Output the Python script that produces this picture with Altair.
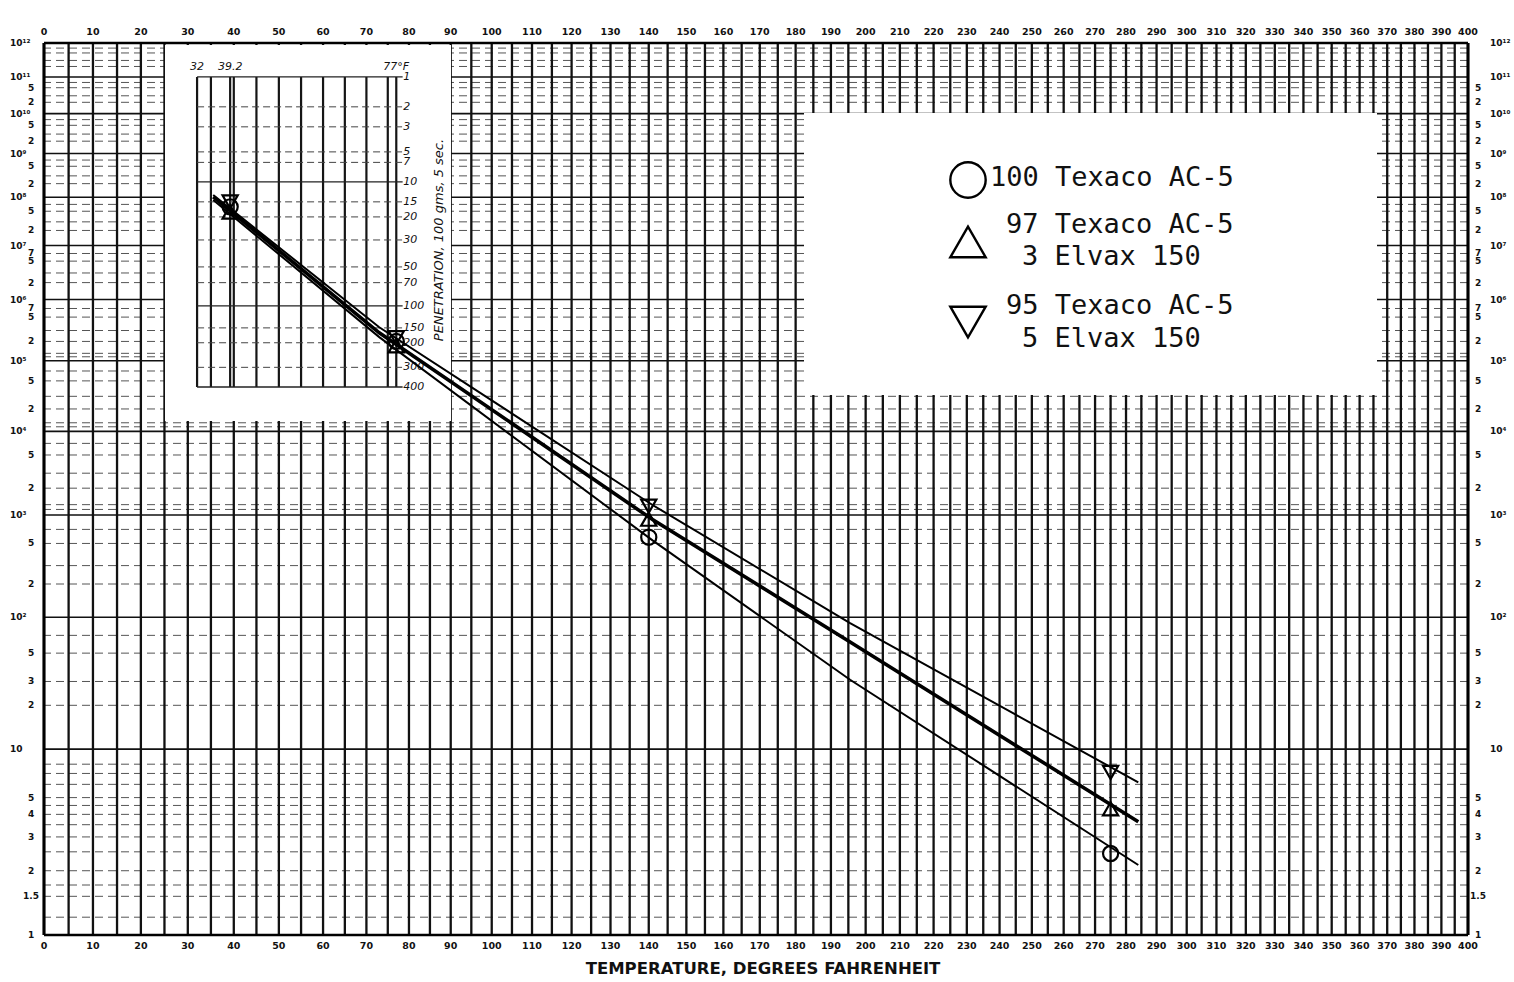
import math
import altair as alt
import pandas as pd

W, H = 1424, 892

# ---------------- data ----------------
SERIES = ["100 Texaco AC-5", "97 Texaco AC-5 / 3 Elvax 150", "95 Texaco AC-5 / 5 Elvax 150"]
T_POINTS = [39.2, 77, 140, 275]                 # deg F
VISC_CIRCLE = [6.2e7, 2.0e5, 580, 2.45]         # poises
VISC_UP = [4.8e7, 1.7e5, 900, 4.3]
VISC_DOWN = [7.9e7, 2.3e5, 1250, 7.1]

LINE_T = [35.5, 73, 141, 195.5, 284]
LINE_LOGV_CIRCLE = [7.94, 5.37, 2.73, 1.49, 0.33]
LINE_LOGV_UP = [8.01, 5.44, 2.95, 1.79, 0.56]
LINE_LOGV_DOWN = [8.05, 5.53, 3.11, 1.95, 0.79]

TEMP_TICKS = list(range(0, 401, 10))
TEMP_GRID = list(range(0, 401, 5))
VISC_TICKS = [1e12, 1e11, 5e10, 2e10, 1e10, 5e9, 2e9, 1e9, 5e8, 2e8, 1e8, 5e7, 2e7, 1e7,
              7e6, 5e6, 2e6, 1e6, 7e5, 5e5, 2e5, 1e5, 5e4, 2e4, 1e4, 5e3, 2e3, 1e3,
              500, 200, 100, 50, 30, 20, 10, 5, 4, 3, 2, 1.5, 1]
VISC_LABELS = ["10¹²", "10¹¹", "5", "2", "10¹⁰", "5", "2", "10⁹", "5", "2", "10⁸", "5", "2", "10⁷",
               "7", "5", "2", "10⁶", "7", "5", "2", "10⁵", "5", "2", "10⁴", "5", "2", "10³",
               "5", "2", "10²", "5", "3", "2", "10", "5", "4", "3", "2", "1.5", "1"]
VISC_LABEL_DY = [0, 0, 0, 0, 0, 0, 0, 0, 0, 0, 0, 0, 0, 0,
                 -3, 3, 0, 0, -3, 3, 0, 0, 0, 0, 0, 0, 0, 0,
                 0, 0, 0, 0, 0, 0, 0, 0, 0, 0, 0, 0, 0]

# inset: penetration scale (100 g, 5 s) and its equivalent log10 viscosity on the main scale
PEN_TICKS = [1, 2, 3, 5, 7, 10, 15, 20, 30, 50, 70, 100, 150, 200, 300, 400]
PEN_EQ_LOGV = [11.0, 10.18, 9.66, 9.04, 8.79, 8.34, 7.90, 7.58, 7.11, 6.59, 6.30, 5.89, 5.52, 5.28, 4.90, 4.61]
PEN_LABEL_DY = [0, 0, 0, -3, 3, 0, -2, 2, 0, 0, 0, 0, -2, 2, 0, 0]
INSET_T = [32, 35, 39.2, 40, 45, 50, 55, 60, 65, 70, 75, 77]
INSET_T_LABELS = [(32, "32"), (39.2, "39.2"), (77, "77°F")]

# ---------------- scales (log of absolute temperature / log-log viscosity) ----------------
U = "log(datum.T + 459.67) / LN10"
def WEXPR(f):
    return f"log({f} + 2) / LN10"

XS = alt.Scale(domain=[math.log10(459.67), math.log10(859.67)], zero=False, nice=False)
YS = alt.Scale(domain=[math.log10(2), math.log10(14)], zero=False, nice=False)

def X(f="u"):
    return alt.X(f"{f}:Q", scale=XS, axis=None)

def Y(f="w"):
    return alt.Y(f"{f}:Q", scale=YS, axis=None)

layers = []

# ---------------- main grid ----------------
minor = [m * 10 ** k for k in range(1, 12) for m in (2, 3, 5, 7)]
minor += [1.2, 1.5, 1.7, 2, 2.5, 3, 3.5, 4, 4.5, 5, 6, 7, 8]
minor += [m * 10 ** k for k in (3, 4, 5) for m in (1.15, 1.3)]
hg = pd.DataFrame({"v": minor})
layers.append(alt.Chart(hg).transform_calculate(w=WEXPR("log(datum.v) / LN10"))
              .mark_rule(color="#555", strokeWidth=1, strokeDash=[8, 5]).encode(y=Y()))
dg = pd.DataFrame({"v": [10.0 ** k for k in range(1, 12)]})
layers.append(alt.Chart(dg).transform_calculate(w=WEXPR("log(datum.v) / LN10"))
              .mark_rule(color="#111", strokeWidth=1.6).encode(y=Y()))

vg = pd.DataFrame({"T": TEMP_GRID})
layers.append(alt.Chart(vg).transform_calculate(u=U)
              .mark_rule(color="#111", strokeWidth=2.3).encode(x=X()))

# frame
fr = pd.DataFrame({"T": [0, 400]})
layers.append(alt.Chart(fr).transform_calculate(u=U)
              .mark_rule(color="black", strokeWidth=3).encode(x=X()))
frh = pd.DataFrame({"v": [1.0, 1e12]})
layers.append(alt.Chart(frh).transform_calculate(w=WEXPR("log(datum.v) / LN10"))
              .mark_rule(color="black", strokeWidth=2.5).encode(y=Y()))

# ---------------- white boxes (inset and legend) ----------------
box = pd.DataFrame({"k": [0]})
layers.append(alt.Chart(box).mark_rect(color="white").encode(
    x=alt.value(121), x2=alt.value(407), y=alt.value(2), y2=alt.value(378)))
layers.append(alt.Chart(box).mark_rect(color="white").encode(
    x=alt.value(760), x2=alt.value(1333), y=alt.value(70), y2=alt.value(352)))

# ---------------- inset grid ----------------
ivg = pd.DataFrame({"T": INSET_T, "top": [PEN_EQ_LOGV[0]] * len(INSET_T),
                    "bot": [PEN_EQ_LOGV[-1]] * len(INSET_T)})
layers.append(alt.Chart(ivg).transform_calculate(
    u=U, w=WEXPR("datum.top"), w2=WEXPR("datum.bot"))
    .mark_rule(color="#151515", strokeWidth=2.2).encode(x=X(), y=Y(), y2="w2:Q"))

ihg = pd.DataFrame({"pen": PEN_TICKS, "logv": PEN_EQ_LOGV, "T": [32] * len(PEN_TICKS),
                    "T2": [78.5] * len(PEN_TICKS)})
solid_pens = [1, 10, 100, 400]
layers.append(alt.Chart(ihg).transform_filter(alt.FieldOneOfPredicate(field="pen", oneOf=solid_pens))
              .transform_calculate(u=U, u2="log(datum.T2 + 459.67) / LN10", w=WEXPR("datum.logv"))
              .mark_rule(color="#222", strokeWidth=1.3).encode(x=X(), x2="u2:Q", y=Y()))
layers.append(alt.Chart(ihg).transform_filter(
    {"not": alt.FieldOneOfPredicate(field="pen", oneOf=solid_pens)})
              .transform_calculate(u=U, u2="log(datum.T2 + 459.67) / LN10", w=WEXPR("datum.logv"))
              .mark_rule(color="#444", strokeWidth=1, strokeDash=[7, 4]).encode(x=X(), x2="u2:Q", y=Y()))

# inset labels
ipl = pd.DataFrame({"T": [77] * len(PEN_TICKS), "logv": PEN_EQ_LOGV,
                    "lab": [str(p) for p in PEN_TICKS], "dy": PEN_LABEL_DY})
layers.append(alt.Chart(ipl).transform_calculate(u=U, w=WEXPR("datum.logv"))
              .mark_text(align="left", baseline="middle", dx=7, font="DejaVu Sans",
                         fontStyle="italic", fontSize=11, color="#111")
              .encode(x=X(), y=Y("w"), yOffset=alt.YOffset("dy:Q", scale=None), text="lab:N"))
itl = pd.DataFrame({"T": [t for t, _ in INSET_T_LABELS], "lab": [l for _, l in INSET_T_LABELS]})
layers.append(alt.Chart(itl).transform_calculate(u=U)
              .mark_text(align="center", baseline="middle", font="DejaVu Sans",
                         fontStyle="italic", fontSize=11, color="#111")
              .encode(x=X(), y=alt.value(24), text="lab:N"))
layers.append(alt.Chart(box).mark_text(
    text="PENETRATION, 100 gms, 5 sec.", angle=270, align="center", baseline="middle",
    font="DejaVu Sans", fontStyle="italic", fontSize=13, color="#111")
    .encode(x=alt.value(395), y=alt.value(197)))

# ---------------- fitted lines ----------------
def line_layer(logvs, width):
    df = pd.DataFrame({"T": LINE_T, "logv": logvs})
    return (alt.Chart(df).transform_calculate(u=U, w=WEXPR("datum.logv"))
            .mark_line(color="black", strokeWidth=width).encode(x=X(), y=Y(), order="T:Q"))

layers.append(line_layer(LINE_LOGV_CIRCLE, 2.0))
layers.append(line_layer(LINE_LOGV_DOWN, 2.0))
layers.append(line_layer(LINE_LOGV_UP, 3.6))

# ---------------- data points ----------------
def point_layer(vals, shape, name):
    df = pd.DataFrame({"T": T_POINTS, "v": vals, "series": [name] * len(vals)})
    return (alt.Chart(df).transform_calculate(u=U, w=WEXPR("log(datum.v) / LN10"))
            .mark_point(shape=shape, filled=False, color="black", strokeWidth=2.2, size=230, opacity=1)
            .encode(x=X(), y=Y()))

layers.append(point_layer(VISC_CIRCLE, "circle", SERIES[0]))
layers.append(point_layer(VISC_UP, "triangle-up", SERIES[1]))
layers.append(point_layer(VISC_DOWN, "triangle-down", SERIES[2]))

# ---------------- legend ----------------
lg_shapes = ["circle", "triangle-up", "triangle-down"]
lg_y = [137, 199, 279]
for shp, yy in zip(lg_shapes, lg_y):
    layers.append(alt.Chart(box).mark_point(shape=shp, filled=False, color="black",
                                           strokeWidth=2.4, size=1250, opacity=1)
                  .encode(x=alt.value(924), y=alt.value(yy)))
lg_lines = [("100 Texaco AC-5", 946, 135), ("97 Texaco AC-5", 962, 182), ("3 Elvax 150", 978, 214),
            ("95 Texaco AC-5", 962, 263), ("5 Elvax 150", 978, 296)]
for txt, xx, yy in lg_lines:
    layers.append(alt.Chart(box).mark_text(text=txt, align="left", baseline="middle",
                                           font="DejaVu Sans Mono", fontSize=27, color="#111")
                  .encode(x=alt.value(xx), y=alt.value(yy)))

# ---------------- axis labels ----------------
tl = pd.DataFrame({"T": TEMP_TICKS, "lab": [str(t) for t in TEMP_TICKS]})
for yy in (-11, H + 11):
    layers.append(alt.Chart(tl).transform_calculate(u=U)
                  .mark_text(align="center", baseline="middle", font="DejaVu Sans",
                             fontWeight="bold", fontSize=9.5, color="#111")
                  .encode(x=X(), y=alt.value(yy), text="lab:N"))

vl = pd.DataFrame({"v": VISC_TICKS, "lab": VISC_LABELS, "dy": VISC_LABEL_DY,
                   "dec": [l.startswith("10") for l in VISC_LABELS]})
for dec, xx, al in ((True, -34, "left"), (False, -13, "center"),
                    (True, W + 22, "left"), (False, W + 10, "center")):
    layers.append(alt.Chart(vl).transform_filter(f"datum.dec == {str(dec).lower()}")
                  .transform_calculate(w=WEXPR("log(datum.v) / LN10"))
                  .mark_text(align=al, baseline="middle", font="DejaVu Sans",
                             fontWeight="bold", fontSize=9, color="#111")
                  .encode(x=alt.value(xx), y=Y(), yOffset=alt.YOffset("dy:Q", scale=None),
                          text="lab:N"))

layers.append(alt.Chart(box).mark_text(
    text="TEMPERATURE, DEGREES FAHRENHEIT", align="center", baseline="middle",
    font="DejaVu Sans", fontWeight="bold", fontSize=16.5, color="#111")
    .encode(x=alt.value(719), y=alt.value(926)))

chart = (alt.layer(*layers)
         .properties(width=W, height=H, background="white",
                     autosize=alt.AutoSizeParams(type="none"),
                     padding={"left": 44, "top": 43, "right": 46, "bottom": 47})
         .configure_view(stroke=None))

chart.save("out.html", embed_options={"renderer": "svg", "actions": False})
